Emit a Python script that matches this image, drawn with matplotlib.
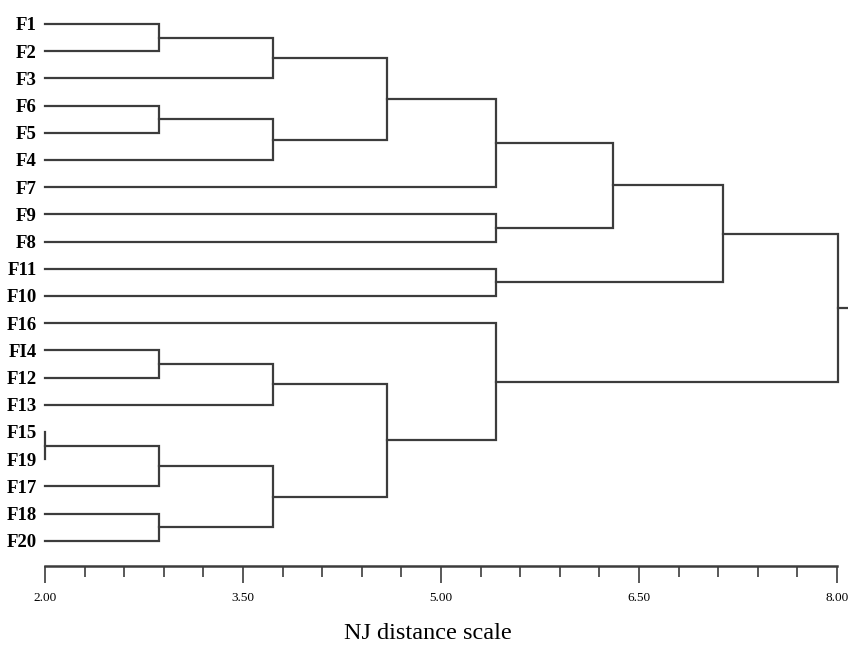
import numpy as np
import matplotlib
matplotlib.use('Agg')
import matplotlib.pyplot as plt
from matplotlib.ticker import FixedLocator

# leaf order as drawn, top to bottom
leaves = ['F1', 'F2', 'F3', 'F6', 'F5', 'F4', 'F7', 'F9', 'F8', 'F11',
          'F10', 'F16', 'FI4', 'F12', 'F13', 'F15', 'F19', 'F17', 'F18', 'F20']

# merges, linkage style: node ids 0..19 are leaves, new nodes get 20, 21, ...
merge_a = [0, 20, 3, 22, 21, 24, 7, 25, 9, 27, 12, 30, 15, 32, 18, 33, 31, 11, 29]
merge_b = [1, 2, 4, 5, 23, 6, 8, 26, 10, 28, 13, 14, 16, 17, 19, 34, 35, 36, 37]
merge_h = [2.86, 3.73, 2.86, 3.73, 4.59, 5.42, 5.42, 6.30, 5.42, 7.14,
           2.86, 3.73, 2.00, 2.86, 2.86, 3.73, 4.59, 5.42, 8.01]

col = '#3c3c3c'
lw = 1.6

fig = plt.figure(figsize=(8.48, 6.5), dpi=100)
ax = fig.add_axes([45/848, 1 - 566/650, (837 - 45)/848, (566 - 24)/650])

n = len(leaves)
xs = {i: 2.0 for i in range(n)}
ys = {i: float(i) for i in range(n)}
for k in range(len(merge_h)):
    a, b, h = merge_a[k], merge_b[k], merge_h[k]
    ax.plot([xs[a], h, h, xs[b]], [ys[a], ys[a], ys[b], ys[b]],
            color=col, lw=lw, solid_joinstyle='miter', clip_on=False)
    xs[n + k] = h
    ys[n + k] = (ys[a] + ys[b]) / 2

# stub leaving the root
root = n + len(merge_h) - 1
ax.plot([xs[root], xs[root] + 0.08], [ys[root], ys[root]], color=col, lw=lw, clip_on=False)

ax.set_xlim(2, 8)
ax.set_ylim(19.93, 0)

for s in ['top', 'right', 'left']:
    ax.spines[s].set_visible(False)
ax.spines['bottom'].set_color(col)
ax.spines['bottom'].set_linewidth(1.8)

ax.xaxis.set_major_locator(FixedLocator([2.0, 3.5, 5.0, 6.5, 8.0]))
ax.xaxis.set_minor_locator(FixedLocator(np.arange(2.0, 8.01, 0.3)))
ax.set_xticklabels(['2.00', '3.50', '5.00', '6.50', '8.00'],
                   fontfamily='Liberation Serif', fontsize=9.5)
ax.tick_params(axis='x', which='major', length=12, width=1.2, color=col, pad=7)
ax.tick_params(axis='x', which='minor', length=8, width=1.2, color=col)

ax.set_yticks(range(n))
ax.set_yticklabels(leaves, fontfamily='Liberation Serif', fontweight='bold', fontsize=13.5)
ax.tick_params(axis='y', length=0, pad=6)

ax.set_xlabel('NJ distance scale', fontfamily='Liberation Serif', fontsize=17.5)
ax.xaxis.set_label_coords(0.483, -0.105)

fig.savefig('out.png', dpi=100)
